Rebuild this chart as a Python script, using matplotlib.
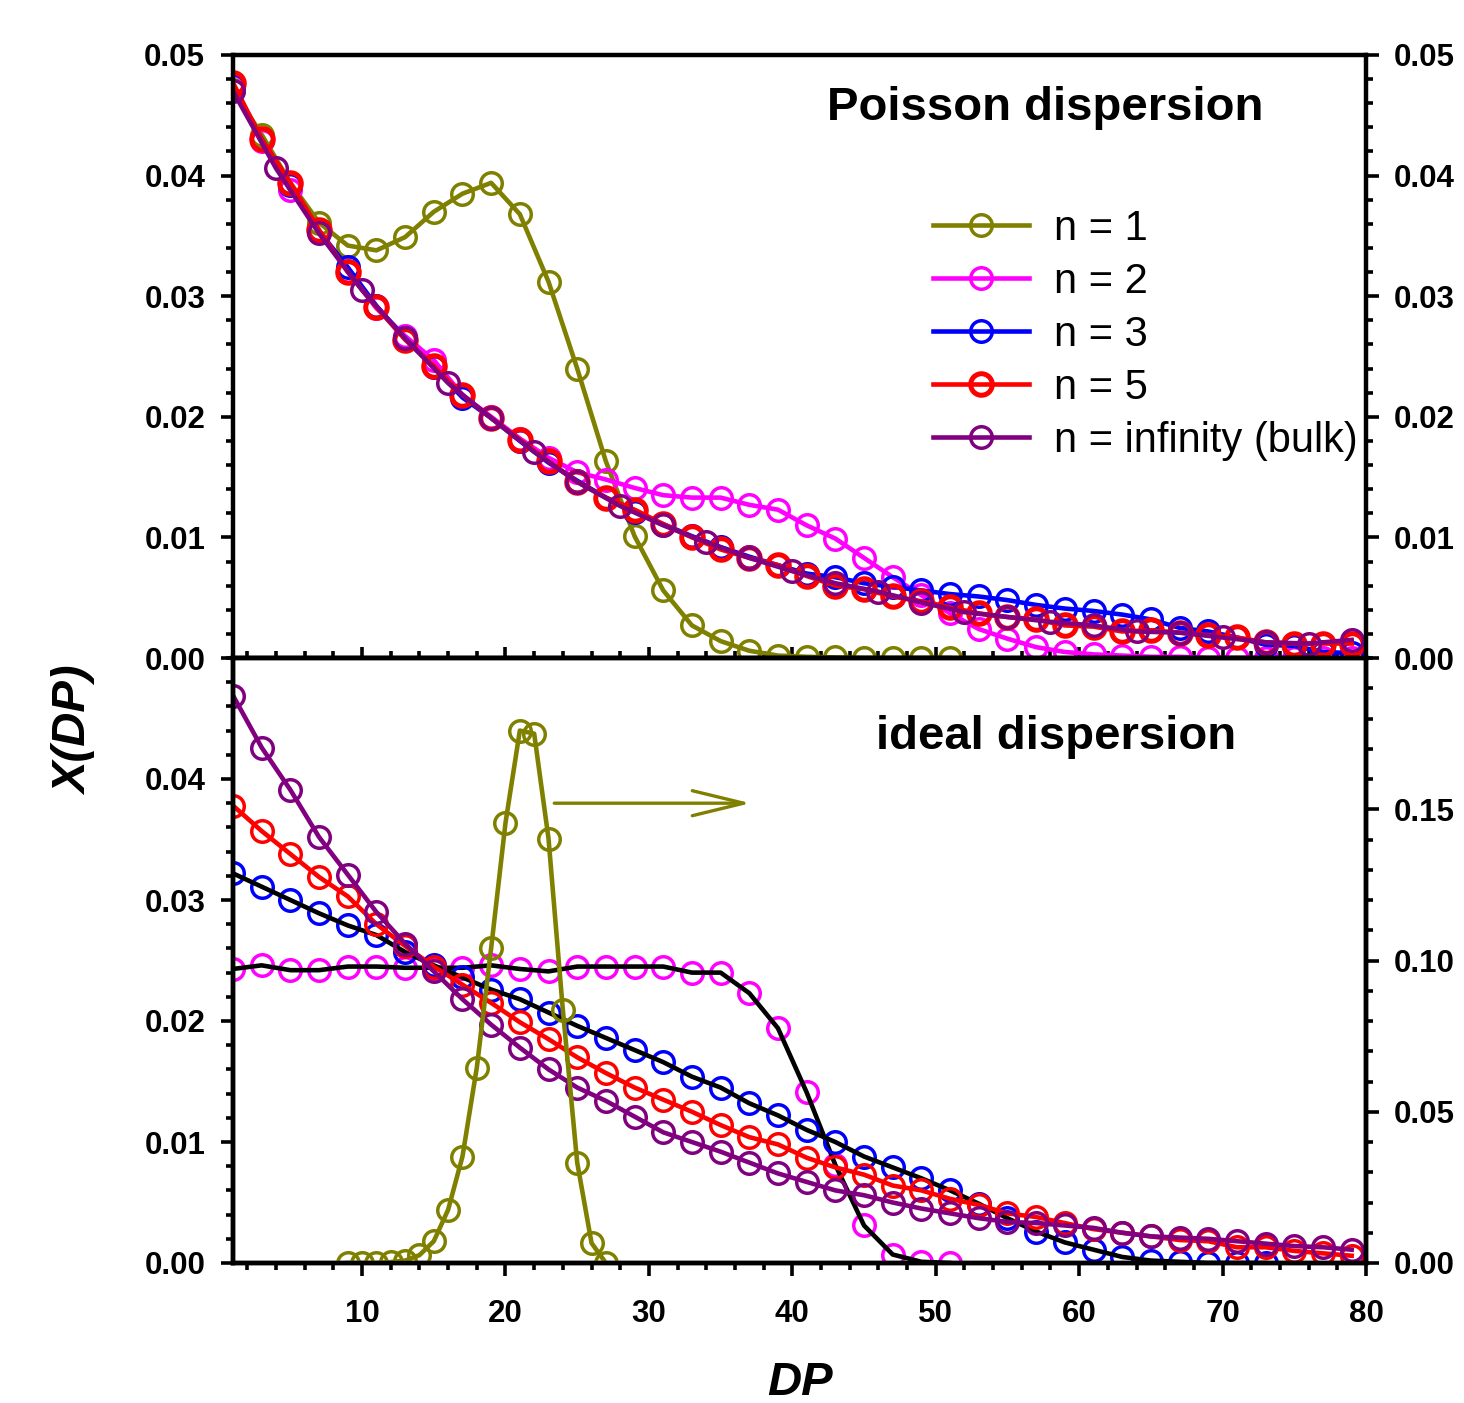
import numpy as np
import matplotlib.pyplot as plt
from matplotlib.ticker import MultipleLocator, FormatStrFormatter

plt.rcParams['font.family'] = 'Liberation Sans'
plt.rcParams['font.weight'] = 'bold'

# x grids (DP values where the points sit)
dp_odd = np.arange(1, 80, 2)
dp_bulk_top = np.arange(1, 80, 3)
dp_n1_top = np.arange(1, 52, 2)
dp_n1_ideal = np.arange(9, 28)
dp_n2_ideal = np.arange(1, 52, 2)
dp_n3_ideal = np.arange(1, 74, 2)

# Poisson dispersion (top panel)
poisson_n1 = [0.0471, 0.0434, 0.0394, 0.0361, 0.0342, 0.0338, 0.0349, 0.0370, 0.0385, 0.0394,
              0.0368, 0.0312, 0.0240, 0.0163, 0.0101, 0.0056, 0.0027, 0.0014, 0.0006, 0.0002,
              0.0001, 0.00005, 0.0, 0.0, 0.0, 0.0]
poisson_n2 = [0.0474, 0.0429, 0.0388, 0.0354, 0.0321, 0.0290, 0.0267, 0.0247, 0.0218, 0.0200,
              0.0182, 0.0166, 0.0154, 0.0148, 0.0141, 0.0135, 0.0133, 0.0133, 0.0127, 0.0123,
              0.0110, 0.0099, 0.0083, 0.0067, 0.0052, 0.0037, 0.0024, 0.0016, 0.0009, 0.0005,
              0.0003, 0.0002, 0.0001, 0.0001, 0.0, 0.0, 0.0, 0.0, 0.0, 0.0]
poisson_n3 = [0.0475, 0.0430, 0.0392, 0.0354, 0.0324, 0.0292, 0.0265, 0.0241, 0.0216, 0.0199,
              0.0180, 0.0162, 0.0147, 0.0133, 0.0121, 0.0111, 0.0101, 0.0092, 0.0084, 0.0077,
              0.0070, 0.0067, 0.0062, 0.0059, 0.0056, 0.0053, 0.0051, 0.0048, 0.0044, 0.0041,
              0.0039, 0.0036, 0.0032, 0.0025, 0.0022, 0.0017, 0.0011, 0.0010, 0.0005, 0.0004]
poisson_n5 = [0.0477, 0.0430, 0.0394, 0.0355, 0.0320, 0.0291, 0.0264, 0.0242, 0.0218, 0.0199,
              0.0181, 0.0163, 0.0146, 0.0133, 0.0123, 0.0111, 0.0100, 0.0090, 0.0083, 0.0077,
              0.0068, 0.0060, 0.0057, 0.0051, 0.0047, 0.0042, 0.0037, 0.0034, 0.0032, 0.0027,
              0.0026, 0.0022, 0.0023, 0.0021, 0.0019, 0.0017, 0.0013, 0.0012, 0.0012, 0.0012]
poisson_bulk = [0.0470, 0.0406, 0.0352, 0.0305, 0.0265, 0.0228, 0.0199, 0.0171, 0.0146, 0.0126,
                0.0110, 0.0096, 0.0083, 0.0072, 0.0062, 0.0055, 0.0046, 0.0038, 0.0034, 0.0030,
                0.0027, 0.0022, 0.0021, 0.0017, 0.0013, 0.0012, 0.0015]

# ideal dispersion (bottom panel), n = 1 is on the right axis
ideal_n1 = [0.0, 0.0, 0.0, 0.0003, 0.0008, 0.0026, 0.0072, 0.0176, 0.0352, 0.0646,
            0.1041, 0.1455, 0.1760, 0.1750, 0.1403, 0.0836, 0.0332, 0.0066, 0.0]
ideal_n2 = [0.0243, 0.0246, 0.0242, 0.0242, 0.0245, 0.0245, 0.0244, 0.0244, 0.0244, 0.0246,
            0.0243, 0.0241, 0.0245, 0.0245, 0.0245, 0.0245, 0.0240, 0.0240, 0.0223, 0.0194,
            0.0141, 0.0081, 0.0031, 0.0007, 0.0001, 0.0]
ideal_n3 = [0.0322, 0.0311, 0.0300, 0.0289, 0.0279, 0.0271, 0.0257, 0.0246, 0.0236, 0.0226,
            0.0218, 0.0207, 0.0196, 0.0186, 0.0176, 0.0166, 0.0154, 0.0145, 0.0132, 0.0122,
            0.0110, 0.0100, 0.0088, 0.0079, 0.0070, 0.0060, 0.0049, 0.0037, 0.0026, 0.0017,
            0.0011, 0.0005, 0.0002, 0.0001, 0.0, 0.0, 0.0]
ideal_n5 = [0.0378, 0.0357, 0.0338, 0.0319, 0.0303, 0.0280, 0.0262, 0.0245, 0.0230, 0.0215,
            0.0199, 0.0185, 0.0170, 0.0157, 0.0145, 0.0135, 0.0125, 0.0114, 0.0104, 0.0098,
            0.0087, 0.0079, 0.0073, 0.0064, 0.0060, 0.0053, 0.0048, 0.0041, 0.0038, 0.0033,
            0.0028, 0.0025, 0.0022, 0.0019, 0.0018, 0.0013, 0.0013, 0.0010, 0.0008, 0.0006]
ideal_bulk = [0.0469, 0.0426, 0.0391, 0.0352, 0.0321, 0.0290, 0.0264, 0.0241, 0.0218, 0.0197,
              0.0178, 0.0160, 0.0145, 0.0134, 0.0121, 0.0108, 0.0100, 0.0092, 0.0083, 0.0074,
              0.0067, 0.0060, 0.0056, 0.0050, 0.0045, 0.0041, 0.0037, 0.0034, 0.0033, 0.0031,
              0.0029, 0.0025, 0.0022, 0.0021, 0.0020, 0.0018, 0.0016, 0.0014, 0.0013, 0.0011]

olive = '#808000'
magenta = '#ff00ff'
blue = '#0000ff'
red = '#ff0000'
purple = '#800080'

W, H = 1464, 1403
fig = plt.figure(figsize=(W / 100, H / 100), dpi=100)
left, right = 233 / W, 1366 / W
ax1 = fig.add_axes([left, 1 - 658 / H, right - left, (658 - 55) / H])
ax2 = fig.add_axes([left, 1 - 1263 / H, right - left, (1263 - 658) / H])

ms = 15.5
lw = 3.3
mew = 2.5

# top panel
ax1.plot(dp_n1_top, poisson_n1, '-o', color=olive, mfc='none', ms=ms, mew=mew, lw=lw, label='n = 1')
ax1.plot(dp_odd, poisson_n2, '-o', color=magenta, mfc='none', ms=ms, mew=mew, lw=lw, label='n = 2')
ax1.plot(dp_odd, poisson_n3, '-o', color=blue, mfc='none', ms=ms, mew=mew, lw=lw, label='n = 3')
ax1.plot(dp_odd, poisson_n5, '-o', color=red, mfc='none', ms=ms, mew=3.6, lw=lw, label='n = 5')
ax1.plot(dp_bulk_top, poisson_bulk, '-o', color=purple, mfc='none', ms=ms, mew=mew, lw=lw,
         label='n = infinity (bulk)')

# bottom panel
ax2.plot(dp_n2_ideal, ideal_n2, 'o', mec=magenta, mfc='none', ms=ms, mew=mew)
ax2.plot(dp_n2_ideal, ideal_n2, color='black', lw=lw)
ax2.plot(dp_n3_ideal, ideal_n3, 'o', mec=blue, mfc='none', ms=ms, mew=mew)
ax2.plot(dp_n3_ideal, ideal_n3, color='black', lw=lw)
ax2.plot(dp_odd, ideal_n5, '-o', color=red, mfc='none', ms=ms, mew=mew, lw=lw)
ax2.plot(dp_odd, ideal_bulk, '-o', color=purple, mfc='none', ms=ms, mew=mew, lw=lw)

ax2r = ax2.twinx()
ax2r.plot(dp_n1_ideal, ideal_n1, '-o', color=olive, mfc='none', ms=ms, mew=mew, lw=lw)

for ax in (ax1, ax2):
    ax.set_xlim(1, 80)
    ax.set_ylim(0, 0.05)
    ax.xaxis.set_major_locator(MultipleLocator(10))
    ax.xaxis.set_minor_locator(MultipleLocator(2))
    ax.yaxis.set_minor_locator(MultipleLocator(0.002))
    ax.yaxis.set_major_formatter(FormatStrFormatter('%.2f'))
    ax.tick_params(which='major', length=9, width=2.6, labelsize=22.5)
    ax.tick_params(which='minor', length=5, width=2.6)
for ax in (ax1, ax2, ax2r):
    for s in ax.spines.values():
        s.set_linewidth(3.2)

ax1.set_yticks([0, 0.01, 0.02, 0.03, 0.04, 0.05])
ax1.tick_params(axis='y', which='both', direction='out', left=True, right=True,
                labelleft=True, labelright=True, pad=11)
ax1.tick_params(axis='x', which='both', direction='inout', top=False, labelbottom=False)
ax1.tick_params(axis='x', which='major', length=16)
ax1.tick_params(axis='x', which='minor', length=10)

ax2.set_yticks([0, 0.01, 0.02, 0.03, 0.04])
ax2.tick_params(axis='y', which='both', direction='out', right=False, pad=11)
ax2.tick_params(axis='x', which='both', direction='out', top=False, pad=17)

ax2r.set_ylim(0, 0.2)
ax2r.set_yticks([0, 0.05, 0.10, 0.15])
ax2r.yaxis.set_minor_locator(MultipleLocator(0.01))
ax2r.yaxis.set_major_formatter(FormatStrFormatter('%.2f'))
ax2r.tick_params(which='major', length=9, width=2.6, labelsize=22.5, pad=11)
ax2r.tick_params(which='minor', length=5, width=2.6)

ax1.legend(loc='upper left', bbox_to_anchor=(933 / W, 1 - 209 / H), bbox_transform=fig.transFigure,
           frameon=False, prop={'weight': 'normal', 'size': 30}, handlelength=2.3,
           handletextpad=0.6, labelspacing=0.31, borderpad=0, borderaxespad=0)

ax1.text(57.6, 0.0456, 'Poisson dispersion', fontsize=34, fontweight='bold', ha='center', va='center')
ax2.text(58.4, 0.0435, 'ideal dispersion', fontsize=34, fontweight='bold', ha='center', va='center')

ax2.annotate('', xy=(37.1, 0.0380), xytext=(23.4, 0.0380),
             arrowprops=dict(arrowstyle='->,head_length=3.7,head_width=0.9', color=olive, lw=2.4,
                             mutation_scale=10, shrinkA=0, shrinkB=0))

fig.text(75 / W, 1 - 731 / H, 'X(DP)', rotation=90, fontsize=34, fontweight='bold',
         style='italic', ha='center', va='center')
fig.text(800 / W, 1 - 1383 / H, 'DP', fontsize=34, fontweight='bold', style='italic',
         ha='center', va='center')

fig.savefig('out.png', dpi=100)
